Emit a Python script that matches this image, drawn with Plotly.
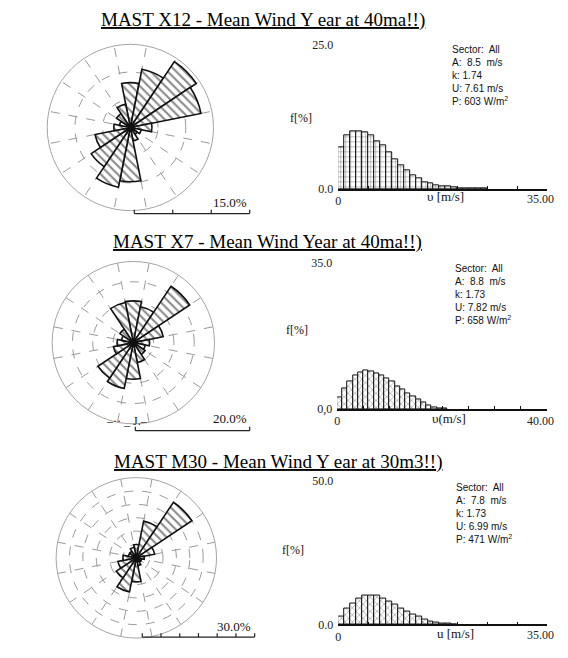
import plotly.graph_objects as go

# page is 568x658; the html body adds an 8px margin, so the figure is drawn smaller
W, H = 548, 638
OFF = 8

# ---------------- data ----------------
directions = [0, 22.5, 45, 67.5, 90, 112.5, 135, 157.5, 180, 202.5, 225, 247.5, 270, 292.5, 315, 337.5]

rose_x12 = [8.1, 10.7, 14.3, 13.0, 3.9, 2.0, 1.5, 2.5, 9.8, 11.0, 8.5, 6.5, 3.0, 2.0, 3.0, 4.3]
rose_x7 = [10.3, 9.0, 16.7, 7.5, 4.0, 3.0, 3.5, 5.0, 9.0, 11.5, 10.5, 5.0, 4.0, 3.0, 4.0, 10.1]
rose_m30 = [5.0, 14.0, 25.0, 7.0, 3.0, 2.0, 2.0, 3.0, 9.0, 13.0, 9.0, 7.0, 5.0, 3.0, 3.0, 4.0]

freq_x12 = [7.2, 9.2, 10.0, 10.0, 9.75, 9.2, 8.3, 7.5, 6.3, 5.2, 4.1, 3.2, 2.4, 1.8, 1.25,
            0.96, 0.68, 0.5, 0.4, 0.28, 0.2, 0.15, 0.1, 0.08, 0.05]
freq_x7 = [2.7, 5.0, 6.5, 8.1, 8.85, 9.2, 9.0, 8.5, 8.1, 7.3, 6.5, 5.4, 4.6, 3.85, 3.1,
           2.3, 1.5, 0.77, 0.4, 0.2, 0.1]
freq_m30 = [2.8, 5.6, 7.3, 8.8, 9.9, 10.1, 9.9, 9.0, 7.9, 6.8, 5.6, 4.5, 3.4, 2.6, 1.7,
            1.1, 0.6, 0.3, 0.15, 0.08]

titles = ["MAST X12 - Mean Wind Y ear at 40ma!!)",
          "MAST X7 - Mean Wind Year at 40ma!!)",
          "MAST M30 - Mean Wind Y ear at 30m3!!)"]
stats = [["Sector:  All", "A:  8.5  m/s", "k: 1.74", "U: 7.61 m/s", "P: 603 W/m<sup>2</sup>"],
         ["Sector:  All", "A:  8.8  m/s", "k: 1.73", "U: 7.82 m/s", "P: 658 W/m<sup>2</sup>"],
         ["Sector:  All", "A:  7.8  m/s", "k: 1.73", "U: 6.99 m/s", "P: 471 W/m<sup>2</sup>"]]
scale_labels = ["15.0%", "20.0%", "30.0%"]
rose_max = [15, 20, 30]
f_max = [25, 35, 50]
f_max_labels = ["25.0", "35.0", "50.0"]
f_zero_labels = ["0.0", "0,0", "0.0"]
u_max = [35, 40, 35]
u_max_labels = ["35.00", "40.00", "35.00"]
u_labels = ["υ [m/s]", "υ(m/s]", "u [m/s]"]

# ---------------- layout geometry (page pixels) ----------------
def fx(x):
    return (x - OFF) / W

def fy(y):
    return 1 - (y - OFF) / H

rose_geo = [(128, 123, 85), (131, 343, 83), (134, 563, 82)]  # cx, cy, r
hist_geo = [(337, 547, 38, 186), (336, 547, 261, 411), (337, 547, 484, 631)]  # x0,x1,ytop,ybot
title_pos = [(261, 13), (266, 240), (277, 465)]
stats_pos = [(450, 37), (453, 261), (454, 484)]
flabel_pos = [(300, 113), (296, 330), (292, 555)]
ulabel_pos = [(445, 194), (448, 421), (455, 640)]
umax_pos = [(555, 196), (555, 423), (555, 642)]
scale_geo = [(132, 248, 211, 228, 200, 4), (133, 248, 433, 228, 421, 2), (140, 253, 644, 232, 633, 7)]

freqs = [freq_x12, freq_x7, freq_m30]
roses = [rose_x12, rose_x7, rose_m30]
hist_patterns = ["+", "x", "x"]

fig = go.Figure()
layout = dict(
    width=W, height=H, margin=dict(l=0, r=0, t=0, b=0),
    paper_bgcolor="white", plot_bgcolor="white", showlegend=False,
    bargap=0,
)
annotations = []
shapes = []

for i in range(3):
    pname = "polar" if i == 0 else f"polar{i + 1}"
    cx, cy, r = rose_geo[i]
    fig.add_trace(go.Barpolar(
        r=roses[i], theta=directions, width=[22.5] * len(directions),
        subplot=pname,
        marker=dict(color="white", line=dict(color="#111", width=1.6),
                    pattern=dict(shape="\\", fgcolor="#111", bgcolor="white", size=6, solidity=0.35)),
    ))
    layout[pname] = dict(
        domain=dict(x=[fx(cx - r), fx(cx + r)], y=[max(0, fy(cy + r)), fy(cy - r)]),
        bgcolor="white",
        radialaxis=dict(range=[0, rose_max[i]], dtick=5, showticklabels=False, ticks="",
                        showline=False, gridcolor="#9a9a9a", griddash="dash", gridwidth=1),
        angularaxis=dict(rotation=90, direction="clockwise",
                         tickmode="array", tickvals=[d + 11.25 for d in directions],
                         showticklabels=False, ticks="", gridcolor="#9a9a9a", griddash="dash",
                         showline=True, linecolor="#a5a5a5", linewidth=1),
    )

    # histogram
    xa = "x" if i == 0 else f"x{i + 1}"
    ya = "y" if i == 0 else f"y{i + 1}"
    x0, x1, yt, yb = hist_geo[i]
    bins = [k + 0.5 for k in range(len(freqs[i]))]
    fig.add_trace(go.Bar(
        x=bins, y=freqs[i], width=1, xaxis=xa, yaxis=ya,
        marker=dict(color="white", line=dict(color="#111", width=1),
                    pattern=dict(shape=hist_patterns[i], fgcolor="#111", bgcolor="white", size=5, solidity=0.2)),
    ))
    xkey = "xaxis" if i == 0 else f"xaxis{i + 1}"
    ykey = "yaxis" if i == 0 else f"yaxis{i + 1}"
    layout[xkey] = dict(
        domain=[fx(x0), fx(x1)], anchor=ya, range=[0, u_max[i]],
        tickmode="array", tickvals=[0], ticktext=["0"],
        ticks="inside", ticklen=3, tickcolor="#111",
        minor=dict(ticks="inside", dtick=5, tick0=0, ticklen=3, tickcolor="#111", showgrid=False),
        showline=True, linecolor="#111", linewidth=1.6, showgrid=False, zeroline=False,
        tickfont=dict(family="Liberation Serif", size=12, color="#222"),
    )
    layout[ykey] = dict(
        domain=[fy(yb), fy(yt)], anchor=xa, range=[0, f_max[i]],
        tickmode="array", tickvals=[0, f_max[i]], ticktext=[f_zero_labels[i], f_max_labels[i]],
        ticks="", showline=False, showgrid=False, zeroline=False, ticklabelstandoff=4,
        tickfont=dict(family="Liberation Serif", size=12, color="#222"),
    )
    # end-of-axis speed label
    mx, my = umax_pos[i]
    annotations.append(dict(
        x=fx(mx), y=fy(my), xref="paper", yref="paper", xanchor="right", yanchor="middle",
        text=u_max_labels[i], showarrow=False, borderpad=0,
        font=dict(family="Liberation Serif", size=12, color="#222"),
    ))

    # titles
    tx, ty = title_pos[i]
    annotations.append(dict(
        x=fx(tx), y=fy(ty), xref="paper", yref="paper", xanchor="center", yanchor="middle",
        text=f"<u>{titles[i]}</u>", showarrow=False,
        font=dict(family="Liberation Serif", size=19, color="#000"),
    ))
    # stats block
    sx, sy = stats_pos[i]
    annotations.append(dict(
        x=fx(sx), y=fy(sy), xref="paper", yref="paper", xanchor="left", yanchor="top",
        text="<br>".join(stats[i]), showarrow=False, align="left", borderpad=0,
        font=dict(family="Liberation Sans", size=10, color="#111"),
    ))
    # f[%] label
    lx, ly = flabel_pos[i]
    annotations.append(dict(
        x=fx(lx), y=fy(ly), xref="paper", yref="paper", xanchor="center", yanchor="middle",
        text="f[%]", showarrow=False, font=dict(family="Liberation Serif", size=12, color="#111"),
    ))
    # u label
    ux, uy = ulabel_pos[i]
    annotations.append(dict(
        x=fx(ux), y=fy(uy), xref="paper", yref="paper", xanchor="center", yanchor="middle",
        text=u_labels[i], showarrow=False, font=dict(family="Liberation Serif", size=13, color="#111"),
    ))
    # scale bar under rose
    bx0, bx1, by, lbx, lby, nt = scale_geo[i]
    shapes.append(dict(type="line", xref="paper", yref="paper",
                       x0=fx(bx0), x1=fx(bx1), y0=fy(by), y1=fy(by),
                       line=dict(color="#222", width=1.2)))
    for k in range(nt):
        tx_ = bx0 + (bx1 - bx0) * k / (nt - 1)
        shapes.append(dict(type="line", xref="paper", yref="paper",
                           x0=fx(tx_), x1=fx(tx_), y0=fy(by), y1=fy(by - 4),
                           line=dict(color="#222", width=1.2)))
    annotations.append(dict(
        x=fx(lbx), y=fy(lby), xref="paper", yref="paper", xanchor="center", yanchor="middle",
        text=scale_labels[i], showarrow=False, font=dict(family="Liberation Serif", size=13, color="#111"),
    ))

# scan artefact text in second panel
annotations.append(dict(x=fx(125), y=fy(423), xref="paper", yref="paper", xanchor="center", yanchor="middle",
                        text="–·· _ J.–", showarrow=False,
                        font=dict(family="Liberation Serif", size=12, color="#222")))

layout["annotations"] = annotations
layout["shapes"] = shapes
fig.update_layout(**layout)
fig.write_html("out.html")
